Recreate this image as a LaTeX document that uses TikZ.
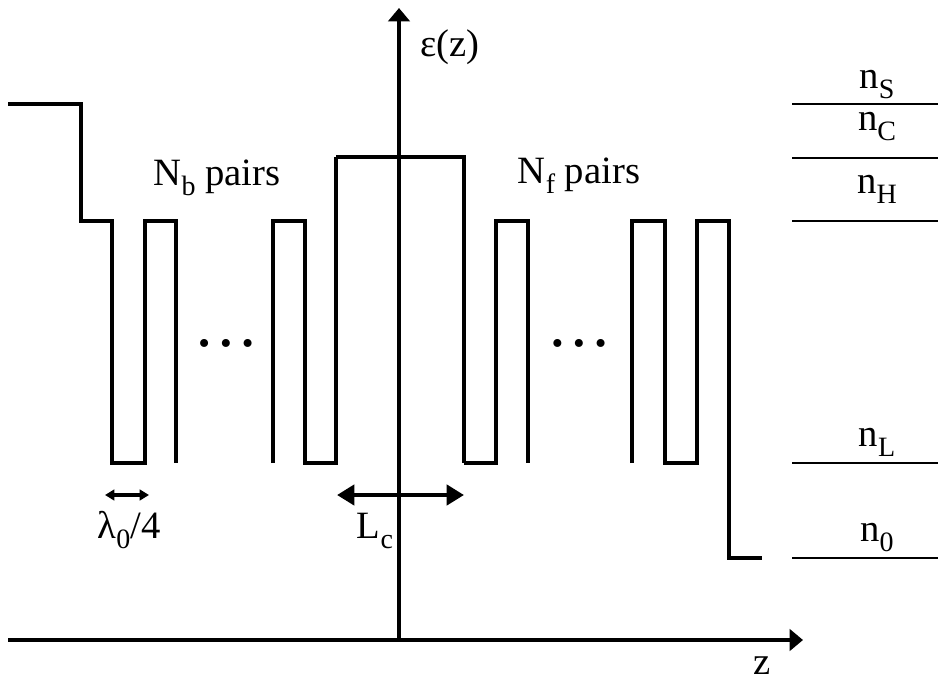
\documentclass[tikz,border=0pt]{standalone}
\usepackage{fontspec}
\setmainfont{Liberation Serif}
\usetikzlibrary{arrows.meta}

\newcommand\lowsub[1]{\raisebox{-0.27em}{\fontsize{21}{21}\selectfont #1}}
\newcommand\dotrow{{\fontsize{25}{25}\selectfont
  \textbullet\hspace{7.5pt}\textbullet\hspace{7.5pt}\textbullet}}

\begin{document}
\begin{tikzpicture}[
  x={(0.75pt,0pt)}, y={(0pt,-0.75pt)},
  font=\fontsize{29}{34}\selectfont,
  prof/.style={line width=2.7pt, line join=miter},
  axis/.style={line width=3.4pt, -{Triangle[length=10pt,width=16pt]}},
  lvl/.style={line width=1.3pt},
  dimbig/.style={line width=3.4pt,
    {Triangle[length=13pt,width=15pt]}-{Triangle[length=13pt,width=15pt]}},
  dimsmall/.style={line width=2.4pt,
    {Triangle[length=7pt,width=8pt]}-{Triangle[length=7pt,width=8pt]}},
  lbl/.style={inner sep=0pt, anchor=base},
]
\useasboundingbox (0,0) rectangle (938,682);

%% ---- Axes ----
\coordinate (zl)  at (8,640);
\coordinate (zr)  at (803,640);
\coordinate (eb)  at (399,640);
\coordinate (et)  at (399,8);
\draw[axis] (zl) -- (zr);
\draw[axis] (eb) -- (et);
\node[lbl] (epslbl) at (450,56)  {ε(z)};
\node[lbl] (zlbl)   at (762,674) {z};

%% ---- Back mirror (N_b pairs) ----
\draw[prof] (8,104) -- (81,104) -- (81,221) -- (112,221) -- (112,463)
  -- (145,463) -- (145,221) -- (176,221) -- (176,463);
\draw[prof] (273,463) -- (273,221) -- (305,221) -- (305,463) -- (336,463)
  -- (336,157);

%% ---- Cavity ----
\draw[prof] (336,157) -- (464,157) -- (464,463);

%% ---- Front mirror (N_f pairs) ----
\draw[prof] (464,463) -- (496,463) -- (496,221) -- (528,221) -- (528,463);
\draw[prof] (632,463) -- (632,221) -- (665,221) -- (665,463) -- (697,463)
  -- (697,221) -- (729,221) -- (729,558) -- (762,558);

\node[lbl] (nb)    at (217,185) {N\lowsub{b} pairs};
\node[lbl] (nf)    at (579,183) {N\lowsub{f} pairs};
\node[lbl, anchor=center] (dotsb) at (226,347) {\dotrow};
\node[lbl, anchor=center] (dotsf) at (579,347) {\dotrow};

%% ---- Lengths ----
\coordinate (qa) at (105,495);
\coordinate (qb) at (149,495);
\draw[dimsmall] (qa) -- (qb);
\node[lbl] (qlbl) at (129,538) {λ\lowsub{0}/4};

\coordinate (ca) at (337,495);
\coordinate (cb) at (464,495);
\draw[dimbig] (ca) -- (cb);
\node[lbl] (clbl) at (375,538) {L\lowsub{c}};

%% ---- Index levels ----
\foreach \y/\t/\ty in {104/S/88, 158/C/130, 221/H/193, 463/L/446, 558/0/541}{
  \draw[lvl] (792,\y) -- (938,\y);
  \node[lbl] (n\t) at (877,\ty) {n\lowsub{\t}};
}

\end{tikzpicture}
\end{document}
